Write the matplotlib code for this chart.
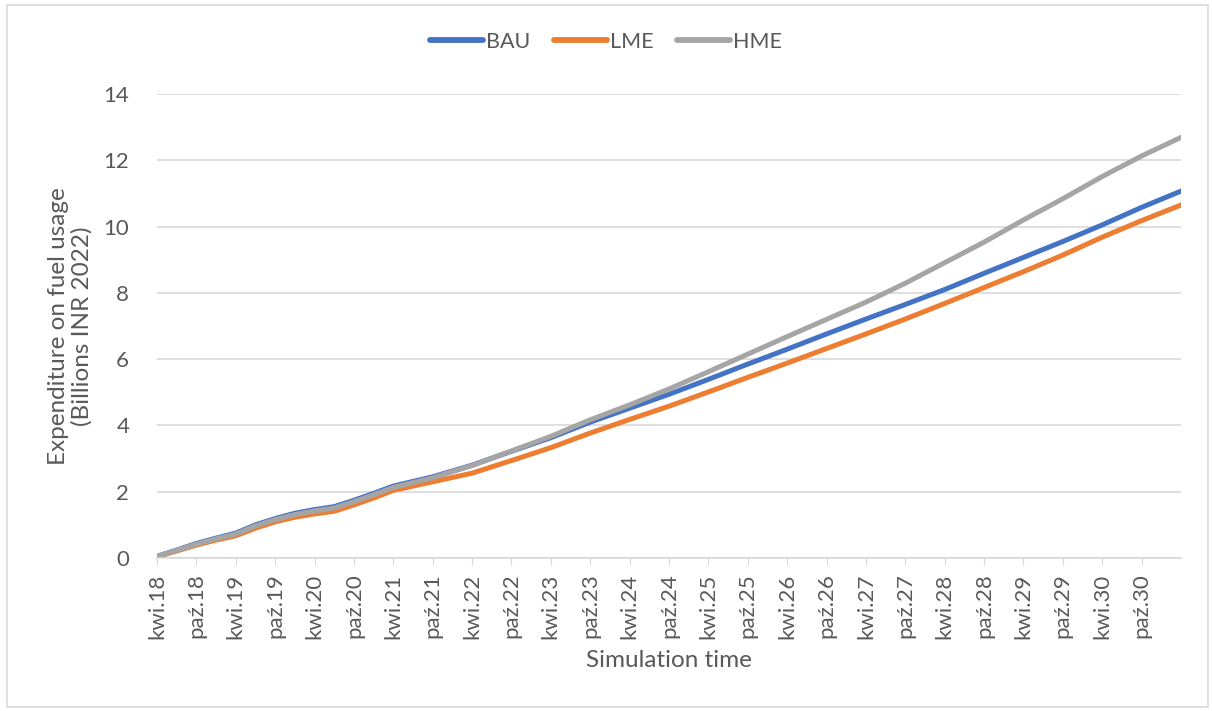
import matplotlib.pyplot as plt
from matplotlib.patches import Rectangle

plt.rcParams["font.family"] = ["Lato", "DejaVu Sans"]

# months since April 2018
months = [0, 3, 6, 9, 12, 15, 18, 21, 24, 27, 30, 33, 36,
          42, 48, 54, 60, 66, 72, 78, 84, 90, 96, 102, 108,
          114, 120, 126, 132, 138, 144, 150, 156]

bau = [0.05, 0.24, 0.44, 0.60, 0.75, 1.00, 1.19, 1.35, 1.46, 1.55, 1.74, 1.95, 2.17,
       2.45, 2.80, 3.22, 3.63, 4.10, 4.52, 4.94, 5.39, 5.85, 6.30, 6.76, 7.21,
       7.65, 8.10, 8.59, 9.07, 9.55, 10.05, 10.58, 11.07]
lme = [0.04, 0.21, 0.39, 0.54, 0.67, 0.90, 1.09, 1.23, 1.33, 1.41, 1.60, 1.81, 2.04,
       2.30, 2.56, 2.94, 3.33, 3.77, 4.18, 4.58, 5.01, 5.45, 5.88, 6.32, 6.76,
       7.21, 7.68, 8.16, 8.64, 9.14, 9.68, 10.18, 10.65]
hme = [0.05, 0.23, 0.42, 0.58, 0.72, 0.97, 1.16, 1.31, 1.42, 1.51, 1.70, 1.91, 2.13,
       2.42, 2.79, 3.23, 3.67, 4.17, 4.62, 5.10, 5.62, 6.15, 6.68, 7.20, 7.72,
       8.29, 8.91, 9.53, 10.20, 10.84, 11.51, 12.13, 12.69]

years = list(range(18, 31))
tick_labels = [f"{m}.{y}" for y in years for m in ("kwi", "paź")]
tick_pos = [6 * i for i in range(len(tick_labels))]

text_col = "#595959"
grid_col = "#D9D9D9"

fig = plt.figure(figsize=(12.12, 7.11), dpi=100)
ax = fig.add_axes([157 / 1212, 1 - 558 / 711, (1181 - 157) / 1212, (558 - 94) / 711])

ax.plot(months, bau, color="#4472C4", lw=3.6, label="BAU", solid_capstyle="round")
ax.plot(months, lme, color="#ED7D31", lw=3.6, label="LME", solid_capstyle="round")
ax.plot(months, hme, color="#A5A5A5", lw=3.6, label="HME", solid_capstyle="round")

ax.set_xlim(0, 156)
ax.set_ylim(0, 14)
ax.set_yticks(range(0, 15, 2))
ax.set_xticks(tick_pos)
ax.set_xticklabels(tick_labels, rotation=90)
ax.tick_params(axis="x", colors=grid_col, labelcolor=text_col, labelsize=16, length=5, pad=6)
ax.tick_params(axis="y", length=0, labelcolor=text_col, labelsize=16, pad=20)
ax.grid(axis="y", color=grid_col, lw=1.2)
ax.set_axisbelow(True)
for s in ["top", "right", "left"]:
    ax.spines[s].set_visible(False)
ax.spines["bottom"].set_color(grid_col)
ax.spines["bottom"].set_linewidth(1.2)

ax.set_xlabel("Simulation time", fontsize=17.5, color=text_col, labelpad=8)
ax.set_ylabel("Expenditure on fuel usage\n(Billions INR 2022)", fontsize=17.5,
              color=text_col, labelpad=8, linespacing=1.12)

leg = fig.legend(loc="center", bbox_to_anchor=(0.5, 1 - 42 / 711), ncol=3, frameon=False,
                 fontsize=15.5, labelcolor=text_col, handlelength=2.45, handletextpad=0.15,
                 columnspacing=1.1)
for h in leg.get_lines():
    h.set_linewidth(4.2)
    h.set_solid_capstyle("round")

fig.patches.append(Rectangle((7 / 1212, 4 / 711), 1201 / 1212, 702 / 711,
                             transform=fig.transFigure, fill=False,
                             edgecolor=grid_col, lw=1.2))

fig.savefig("out.png", dpi=100)
